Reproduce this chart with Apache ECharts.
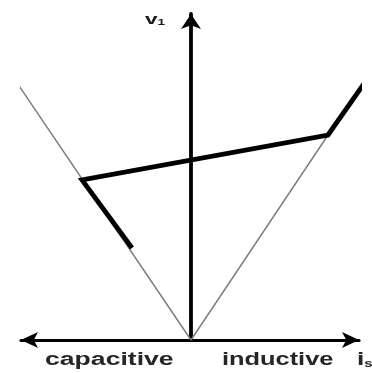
<!DOCTYPE html>
<html>
<head>
<meta charset="utf-8">
<script src="https://cdn.jsdelivr.net/npm/echarts@6/dist/echarts.min.js"></script>
<style>
  html, body { margin: 0; padding: 0; background: #fff; }
  #chart { width: 372px; height: 373px; }
</style>
</head>
<body>
<div id="chart"></div>
<script>
// Load lines through the origin (capacitive side and inductive side)
const capLineX = [0, -178];
const capLineY = [0, 263];
const indLineX = [0, 137];
const indLineY = [0, 205];

// Operating characteristic (bold polyline)
const opX = [-59, -109, 137, 177];
const opY = [92, 160, 205, 262];

// Axis extents
const xMin = -170, xMax = 168;
const yMin = 0, yMax = 326;

function pairs(xs, ys) {
  return xs.map((x, i) => [x, ys[i]]);
}

const FONT = '"Liberation Sans", Arial, sans-serif';

const chart = echarts.init(document.getElementById('chart'), null, { renderer: 'canvas' });

chart.setOption({
  animation: false,
  backgroundColor: '#ffffff',
  grid: { left: 21, right: 13, top: 14, bottom: 33, containLabel: false },
  xAxis: {
    type: 'value', min: xMin, max: xMax,
    axisLine: {
      show: true, onZero: true,
      symbol: ['arrow', 'arrow'], symbolSize: [12, 17],
      lineStyle: { color: '#000', width: 3.2 }
    },
    axisTick: { show: false }, axisLabel: { show: false }, splitLine: { show: false }
  },
  yAxis: {
    type: 'value', min: yMin, max: yMax,
    axisLine: {
      show: true, onZero: true,
      symbol: ['none', 'arrow'], symbolSize: [15, 15],
      lineStyle: { color: '#000', width: 3.8 }
    },
    axisTick: { show: false }, axisLabel: { show: false }, splitLine: { show: false }
  },
  series: [
    {
      type: 'line', data: pairs(capLineX, capLineY), showSymbol: false, symbol: 'none',
      clip: false, silent: true, z: 1,
      lineStyle: { color: '#7a7a7a', width: 1.4 }
    },
    {
      type: 'line', data: pairs(indLineX, indLineY), showSymbol: false, symbol: 'none',
      clip: false, silent: true, z: 1,
      lineStyle: { color: '#7a7a7a', width: 1.4 }
    },
    {
      type: 'line', data: pairs(opX, opY), showSymbol: false, symbol: 'none',
      clip: false, silent: true, z: 3,
      lineStyle: { color: '#000', width: 4.8, cap: 'butt', join: 'miter' }
    }
  ],
  graphic: [
    {
      type: 'text', x: 145, y: 12, scaleX: 1.5, silent: true,
      style: {
        text: '{v|v}{s|1}',
        verticalAlign: 'top',
        rich: {
          v: { fontFamily: FONT, fontWeight: 'bold', fontSize: 15, fill: '#1a1a1a', color: '#1a1a1a' },
          s: { fontFamily: FONT, fontWeight: 'bold', fontSize: 9, fill: '#1a1a1a', color: '#1a1a1a', padding: [6, 0, 0, 0] }
        }
      }
    },
    {
      type: 'text', x: 45, y: 351, scaleX: 1.52, silent: true,
      style: { text: 'capacitive', fontFamily: FONT, fontWeight: 'bold', fontSize: 17.5, fill: '#262626', verticalAlign: 'top' }
    },
    {
      type: 'text', x: 222, y: 351, scaleX: 1.45, silent: true,
      style: { text: 'inductive', fontFamily: FONT, fontWeight: 'bold', fontSize: 17.5, fill: '#262626', verticalAlign: 'top' }
    },
    {
      type: 'text', x: 357, y: 351, scaleX: 1.5, silent: true,
      style: {
        text: '{i|i}{s|s}',
        verticalAlign: 'top',
        rich: {
          i: { fontFamily: FONT, fontWeight: 'bold', fontSize: 17.5, fill: '#262626', color: '#262626' },
          s: { fontFamily: FONT, fontWeight: 'bold', fontSize: 10, fill: '#262626', color: '#262626', padding: [8, 0, 0, 0] }
        }
      }
    }
  ]
});
</script>
</body>
</html>
